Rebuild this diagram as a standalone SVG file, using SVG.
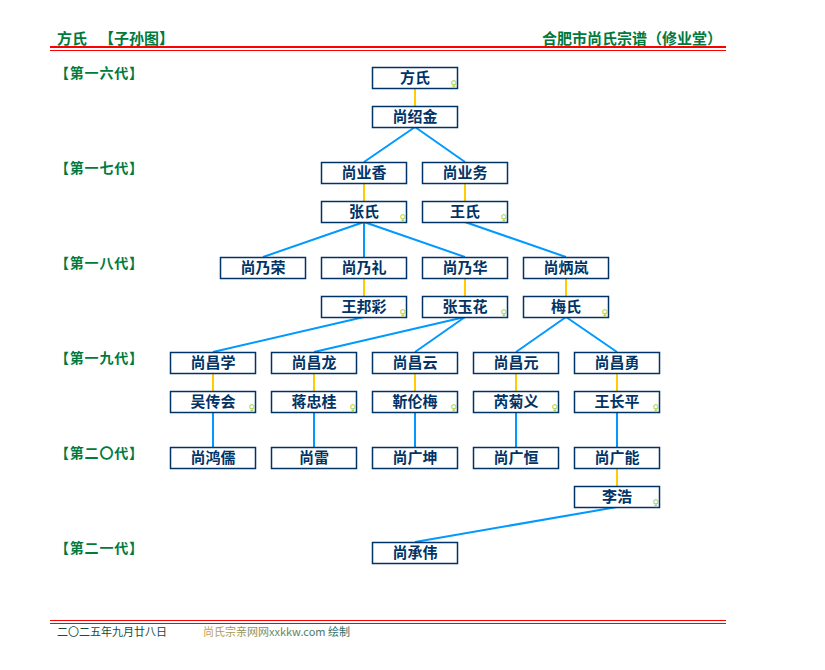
<svg xmlns="http://www.w3.org/2000/svg" width="825" height="670" viewBox="0 0 825 670">
<style>
.box{fill:#fff;stroke:#003366;stroke-width:1.5}
.nm{font-family:"Noto Sans CJK SC","Noto Sans",sans-serif;font-size:15px;font-weight:bold;fill:#003366;text-anchor:middle}
.fm{font-family:"DejaVu Sans",sans-serif;font-size:9px;fill:#99cc33;text-anchor:end}
.gen{font-family:"Noto Sans CJK SC",sans-serif;font-size:14px;font-weight:bold;fill:#007a3d;letter-spacing:0.8px}
.hd{font-family:"Noto Sans CJK SC",sans-serif;font-size:15px;font-weight:bold;fill:#007a3d}
.ft{font-family:"Noto Sans CJK SC","Liberation Mono",monospace;font-size:11px}
.bl{stroke:#0099ff;stroke-width:2;fill:none}
.yl{stroke:#ffcc00;stroke-width:2;fill:none}
.red{stroke:#ff0000}
</style>
<defs>
<linearGradient id="fg" x1="0" x2="1" y1="0" y2="0">
<stop offset="0" stop-color="#c8a050"/>
<stop offset="0.5" stop-color="#6a8a60"/>
<stop offset="1" stop-color="#2a6a6a"/>
</linearGradient>
</defs>
<rect width="825" height="670" fill="#fff"/>
<g id="header">
<text class="hd" x="57" y="44">方氏</text>
<text class="hd" x="99" y="44">【子孙图】</text>
<text class="hd" x="722" y="44" text-anchor="end">合肥市尚氏宗谱（修业堂）</text>
<line class="red" x1="50" y1="47" x2="726" y2="47" stroke-width="2"/>
<line class="red" x1="50" y1="50.5" x2="726" y2="50.5" stroke-width="1"/>
</g>
<g id="generations">
<text class="gen" x="55" y="78">【第一六代】</text>
<text class="gen" x="55" y="173">【第一七代】</text>
<text class="gen" x="55" y="268">【第一八代】</text>
<text class="gen" x="55" y="363">【第一九代】</text>
<text class="gen" x="55" y="458">【第二〇代】</text>
<text class="gen" x="55" y="553">【第二一代】</text>
</g>
<g id="connectors">
<line class="yl" x1="415" y1="88" x2="415" y2="106"/>
<line class="bl" x1="415" y1="127" x2="364" y2="162"/>
<line class="bl" x1="415" y1="127" x2="465" y2="162"/>
<line class="yl" x1="364" y1="183" x2="364" y2="201"/>
<line class="yl" x1="465" y1="183" x2="465" y2="201"/>
<line class="bl" x1="364" y1="222" x2="263" y2="257"/>
<line class="bl" x1="364" y1="222" x2="364" y2="257"/>
<line class="bl" x1="364" y1="222" x2="465" y2="257"/>
<line class="bl" x1="465" y1="222" x2="566" y2="257"/>
<line class="yl" x1="364" y1="278" x2="364" y2="296"/>
<line class="yl" x1="465" y1="278" x2="465" y2="296"/>
<line class="yl" x1="566" y1="278" x2="566" y2="296"/>
<line class="bl" x1="364" y1="317" x2="213" y2="352"/>
<line class="bl" x1="465" y1="317" x2="314" y2="352"/>
<line class="bl" x1="465" y1="317" x2="415" y2="352"/>
<line class="bl" x1="566" y1="317" x2="516" y2="352"/>
<line class="bl" x1="566" y1="317" x2="617" y2="352"/>
<line class="yl" x1="213" y1="373" x2="213" y2="391"/>
<line class="yl" x1="314" y1="373" x2="314" y2="391"/>
<line class="yl" x1="415" y1="373" x2="415" y2="391"/>
<line class="yl" x1="516" y1="373" x2="516" y2="391"/>
<line class="yl" x1="617" y1="373" x2="617" y2="391"/>
<line class="bl" x1="213" y1="412" x2="213" y2="447"/>
<line class="bl" x1="314" y1="412" x2="314" y2="447"/>
<line class="bl" x1="415" y1="412" x2="415" y2="447"/>
<line class="bl" x1="516" y1="412" x2="516" y2="447"/>
<line class="bl" x1="617" y1="412" x2="617" y2="447"/>
<line class="yl" x1="617" y1="468" x2="617" y2="486"/>
<line class="bl" x1="617" y1="507" x2="415" y2="542"/>
</g>
<g id="n1" transform="translate(372,67)"><rect class="box" x="0.5" y="0.5" width="85" height="21"/><text class="nm" x="43" y="16">方氏</text><text class="fm" x="85" y="20">♀</text></g>
<g id="n2" transform="translate(372,106)"><rect class="box" x="0.5" y="0.5" width="85" height="21"/><text class="nm" x="43" y="16">尚绍金</text></g>
<g id="n3" transform="translate(321,162)"><rect class="box" x="0.5" y="0.5" width="85" height="21"/><text class="nm" x="43" y="16">尚业香</text></g>
<g id="n4" transform="translate(422,162)"><rect class="box" x="0.5" y="0.5" width="85" height="21"/><text class="nm" x="43" y="16">尚业务</text></g>
<g id="n5" transform="translate(321,201)"><rect class="box" x="0.5" y="0.5" width="85" height="21"/><text class="nm" x="43" y="16">张氏</text><text class="fm" x="85" y="20">♀</text></g>
<g id="n6" transform="translate(422,201)"><rect class="box" x="0.5" y="0.5" width="85" height="21"/><text class="nm" x="43" y="16">王氏</text><text class="fm" x="85" y="20">♀</text></g>
<g id="n7" transform="translate(220,257)"><rect class="box" x="0.5" y="0.5" width="85" height="21"/><text class="nm" x="43" y="16">尚乃荣</text></g>
<g id="n8" transform="translate(321,257)"><rect class="box" x="0.5" y="0.5" width="85" height="21"/><text class="nm" x="43" y="16">尚乃礼</text></g>
<g id="n9" transform="translate(422,257)"><rect class="box" x="0.5" y="0.5" width="85" height="21"/><text class="nm" x="43" y="16">尚乃华</text></g>
<g id="n10" transform="translate(523,257)"><rect class="box" x="0.5" y="0.5" width="85" height="21"/><text class="nm" x="43" y="16">尚炳岚</text></g>
<g id="n11" transform="translate(321,296)"><rect class="box" x="0.5" y="0.5" width="85" height="21"/><text class="nm" x="43" y="16">王邦彩</text><text class="fm" x="85" y="20">♀</text></g>
<g id="n12" transform="translate(422,296)"><rect class="box" x="0.5" y="0.5" width="85" height="21"/><text class="nm" x="43" y="16">张玉花</text><text class="fm" x="85" y="20">♀</text></g>
<g id="n13" transform="translate(523,296)"><rect class="box" x="0.5" y="0.5" width="85" height="21"/><text class="nm" x="43" y="16">梅氏</text><text class="fm" x="85" y="20">♀</text></g>
<g id="n14" transform="translate(170,352)"><rect class="box" x="0.5" y="0.5" width="85" height="21"/><text class="nm" x="43" y="16">尚昌学</text></g>
<g id="n15" transform="translate(271,352)"><rect class="box" x="0.5" y="0.5" width="85" height="21"/><text class="nm" x="43" y="16">尚昌龙</text></g>
<g id="n16" transform="translate(372,352)"><rect class="box" x="0.5" y="0.5" width="85" height="21"/><text class="nm" x="43" y="16">尚昌云</text></g>
<g id="n17" transform="translate(473,352)"><rect class="box" x="0.5" y="0.5" width="85" height="21"/><text class="nm" x="43" y="16">尚昌元</text></g>
<g id="n18" transform="translate(574,352)"><rect class="box" x="0.5" y="0.5" width="85" height="21"/><text class="nm" x="43" y="16">尚昌勇</text></g>
<g id="n19" transform="translate(170,391)"><rect class="box" x="0.5" y="0.5" width="85" height="21"/><text class="nm" x="43" y="16">吴传会</text><text class="fm" x="85" y="20">♀</text></g>
<g id="n20" transform="translate(271,391)"><rect class="box" x="0.5" y="0.5" width="85" height="21"/><text class="nm" x="43" y="16">蒋忠桂</text><text class="fm" x="85" y="20">♀</text></g>
<g id="n21" transform="translate(372,391)"><rect class="box" x="0.5" y="0.5" width="85" height="21"/><text class="nm" x="43" y="16">靳伦梅</text><text class="fm" x="85" y="20">♀</text></g>
<g id="n22" transform="translate(473,391)"><rect class="box" x="0.5" y="0.5" width="85" height="21"/><text class="nm" x="43" y="16">芮菊义</text><text class="fm" x="85" y="20">♀</text></g>
<g id="n23" transform="translate(574,391)"><rect class="box" x="0.5" y="0.5" width="85" height="21"/><text class="nm" x="43" y="16">王长平</text><text class="fm" x="85" y="20">♀</text></g>
<g id="n24" transform="translate(170,447)"><rect class="box" x="0.5" y="0.5" width="85" height="21"/><text class="nm" x="43" y="16">尚鸿儒</text></g>
<g id="n25" transform="translate(271,447)"><rect class="box" x="0.5" y="0.5" width="85" height="21"/><text class="nm" x="43" y="16">尚雷</text></g>
<g id="n26" transform="translate(372,447)"><rect class="box" x="0.5" y="0.5" width="85" height="21"/><text class="nm" x="43" y="16">尚广坤</text></g>
<g id="n27" transform="translate(473,447)"><rect class="box" x="0.5" y="0.5" width="85" height="21"/><text class="nm" x="43" y="16">尚广恒</text></g>
<g id="n28" transform="translate(574,447)"><rect class="box" x="0.5" y="0.5" width="85" height="21"/><text class="nm" x="43" y="16">尚广能</text></g>
<g id="n29" transform="translate(574,486)"><rect class="box" x="0.5" y="0.5" width="85" height="21"/><text class="nm" x="43" y="16">李浩</text><text class="fm" x="85" y="20">♀</text></g>
<g id="n30" transform="translate(372,542)"><rect class="box" x="0.5" y="0.5" width="85" height="21"/><text class="nm" x="43" y="16">尚承伟</text></g>
<g id="footer">
<line class="red" x1="50" y1="620.5" x2="726" y2="620.5" stroke-width="1"/>
<line class="red" x1="50" y1="623.5" x2="726" y2="623.5" stroke-width="1"/>
<text class="ft" x="57" y="636" fill="#1a4a3a">二〇二五年九月廿八日</text>
<text class="ft" x="203" y="636" fill="url(#fg)">尚氏宗亲网网xxkkw.com 绘制</text>
</g>
</svg>
